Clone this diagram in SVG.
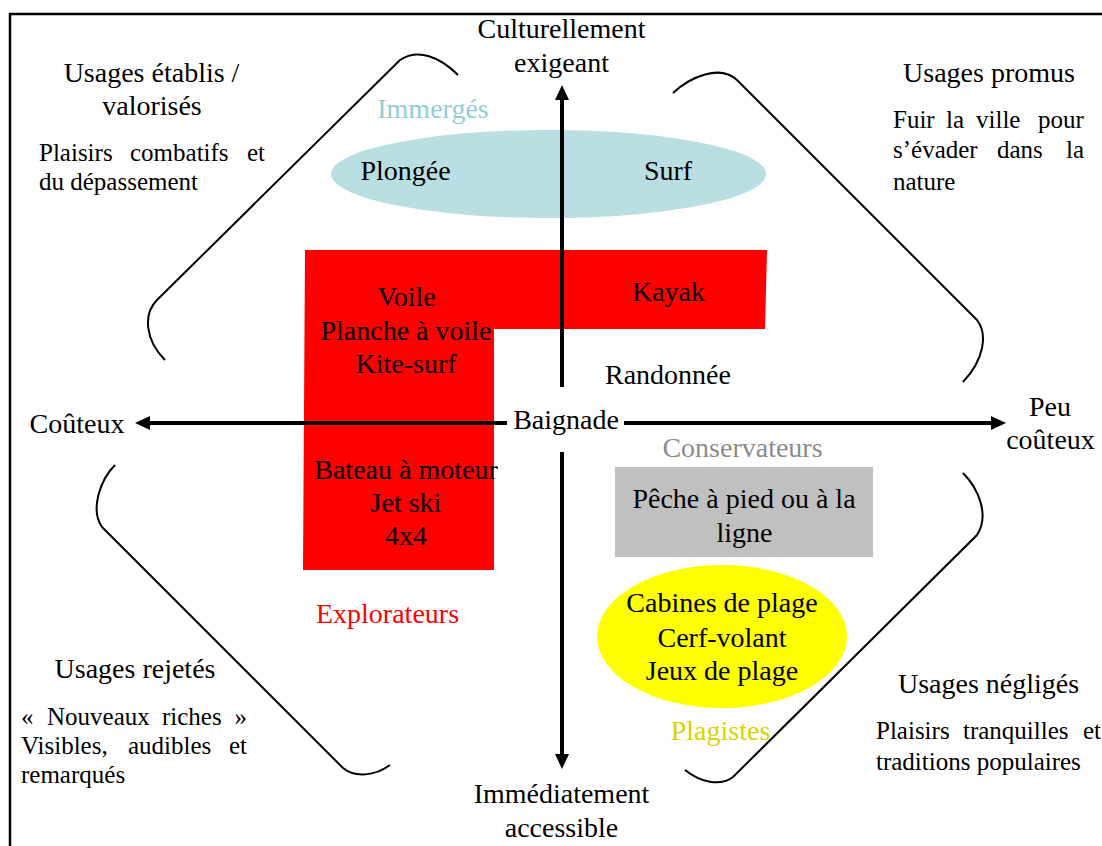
<svg xmlns="http://www.w3.org/2000/svg" width="1102" height="846" viewBox="0 0 1102 846">
<defs>
<style>
text{font-family:"Liberation Serif","Times New Roman",serif;fill:#000}
.t{font-size:28px}
.b{font-size:25px}
.c{text-anchor:middle}
.br{fill:none;stroke:#000;stroke-width:2}
.ax{stroke:#000;stroke-width:4;fill:none}
.ah{fill:#000}
</style>
</defs>
<rect width="1102" height="846" fill="#fff"/>
<g id="frame"><path d="M10,846 V14 H1102" fill="none" stroke="#000" stroke-width="2.5"/></g>

<g id="immerges">
<ellipse cx="548.5" cy="174" rx="217.5" ry="44" fill="#B9DFE3"/>
<text class="t c" x="433" y="118" style="fill:#92CDD3">Immergés</text>
<text class="t c" x="405.5" y="180">Plongée</text>
<text class="t c" x="668" y="180">Surf</text>
</g>

<g id="explorateurs">
<polygon points="305,250 767,250 765,329 494,329 494,570 303,570" fill="#FF0000"/>
<text class="t c" x="406.5" y="306">Voile</text>
<text class="t c" x="406" y="340">Planche à voile</text>
<text class="t c" x="406" y="373">Kite-surf</text>
<text class="t c" x="668.5" y="301">Kayak</text>
<text class="t c" x="406" y="479">Bateau à moteur</text>
<text class="t c" x="406" y="512">Jet ski</text>
<text class="t c" x="406" y="545">4x4</text>
<text class="t c" x="387.5" y="623" style="fill:#FF0000">Explorateurs</text>
</g>

<g id="conservateurs">
<rect x="615" y="467" width="258" height="90" fill="#C0C0C0"/>
<text class="t c" x="742.5" y="457" style="fill:#8C8C8C">Conservateurs</text>
<text class="t c" x="744" y="508">Pêche à pied ou à la</text>
<text class="t c" x="744.5" y="542">ligne</text>
</g>

<g id="plagistes">
<ellipse cx="722" cy="636.5" rx="125" ry="71.5" fill="#FFFF00"/>
<text class="t c" x="722" y="612">Cabines de plage</text>
<text class="t c" x="722" y="647">Cerf-volant</text>
<text class="t c" x="722" y="680">Jeux de plage</text>
<text class="t c" x="720.5" y="740" style="fill:#D8D400">Plagistes</text>
</g>

<g id="brackets">
<path class="br" d="M458,75 C440,57 418,48 400,60 L157,300 C143,314 145,340 165,360"/>
<path class="br" d="M673,93 C690,77 720,64 737,80 L977,320 C988,334 984,360 963,382"/>
<path class="br" d="M115,465 C100,480 90,510 102,527 L343,768 C355,778 375,776 390,765"/>
<path class="br" d="M963,473 C978,488 990,515 977,535 L733,777 C720,787 700,782 685,770"/>
</g>

<g id="axes">
<line class="ax" x1="562" y1="97" x2="562" y2="387"/>
<line class="ax" x1="562" y1="452" x2="562" y2="757"/>
<line class="ax" x1="147" y1="423" x2="507" y2="423"/>
<line class="ax" x1="624" y1="423" x2="994" y2="423"/>
<polygon class="ah" points="562,85 555,100 569,100"/>
<polygon class="ah" points="562,769 555,754 569,754"/>
<polygon class="ah" points="135,423 150,416 150,430"/>
<polygon class="ah" points="1006,423 991,416 991,430"/>
</g>

<g id="axis-labels">
<text class="t c" x="561.5" y="38">Culturellement</text>
<text class="t c" x="561.5" y="72">exigeant</text>
<text class="t c" x="561.5" y="803">Immédiatement</text>
<text class="t c" x="561.5" y="837">accessible</text>
<text class="t c" x="77" y="433">Coûteux</text>
<text class="t c" x="1050" y="416">Peu</text>
<text class="t c" x="1050.5" y="449">coûteux</text>
<text class="t c" x="566" y="429">Baignade</text>
<text class="t c" x="668" y="384">Randonnée</text>
</g>

<g id="usages-etablis">
<text class="t c" x="151.5" y="82">Usages établis /</text>
<text class="t c" x="152" y="115">valorisés</text>
<text class="b" y="161"><tspan x="39">Plaisirs</tspan><tspan x="130">combatifs</tspan><tspan x="247">et</tspan></text>
<text class="b" x="39" y="190">du dépassement</text>
</g>

<g id="usages-promus">
<text class="t c" x="989" y="82">Usages promus</text>
<text class="b" y="128"><tspan x="893">Fuir</tspan><tspan x="946">la</tspan><tspan x="976">ville</tspan><tspan x="1038">pour</tspan></text>
<text class="b" y="158"><tspan x="893">s’évader</tspan><tspan x="997">dans</tspan><tspan x="1066">la</tspan></text>
<text class="b" x="893" y="190">nature</text>
</g>

<g id="usages-rejetes">
<text class="t c" x="135" y="678">Usages rejetés</text>
<text class="b" y="725"><tspan x="21">«</tspan><tspan x="47">Nouveaux</tspan><tspan x="162">riches</tspan><tspan x="234.5">»</tspan></text>
<text class="b" y="754"><tspan x="21">Visibles,</tspan><tspan x="128">audibles</tspan><tspan x="229">et</tspan></text>
<text class="b" x="21" y="783">remarqués</text>
</g>

<g id="usages-negliges">
<text class="t c" x="988.5" y="693">Usages négligés</text>
<text class="b" y="739"><tspan x="876">Plaisirs</tspan><tspan x="963">tranquilles</tspan><tspan x="1083">et</tspan></text>
<text class="b" x="876" y="770">traditions populaires</text>
</g>
</svg>
